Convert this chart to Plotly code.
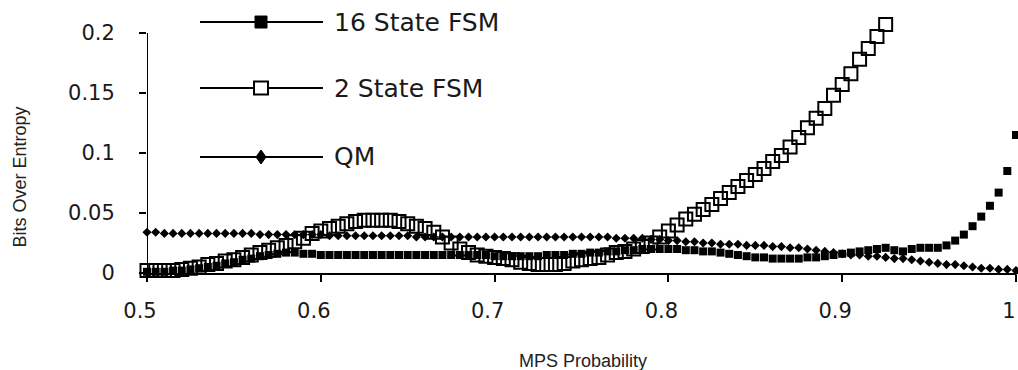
import plotly.graph_objects as go

# ---------------- data ----------------
mps = [0.500, 0.505, 0.510, 0.515, 0.520, 0.525, 0.530, 0.535, 0.540, 0.545,
       0.550, 0.555, 0.560, 0.565, 0.570, 0.575, 0.580, 0.585, 0.590, 0.595,
       0.600, 0.605, 0.610, 0.615, 0.620, 0.625, 0.630, 0.635, 0.640, 0.645,
       0.650, 0.655, 0.660, 0.665, 0.670, 0.675, 0.680, 0.685, 0.690, 0.695,
       0.700, 0.705, 0.710, 0.715, 0.720, 0.725, 0.730, 0.735, 0.740, 0.745,
       0.750, 0.755, 0.760, 0.765, 0.770, 0.775, 0.780, 0.785, 0.790, 0.795,
       0.800, 0.805, 0.810, 0.815, 0.820, 0.825, 0.830, 0.835, 0.840, 0.845,
       0.850, 0.855, 0.860, 0.865, 0.870, 0.875, 0.880, 0.885, 0.890, 0.895,
       0.900, 0.905, 0.910, 0.915, 0.920, 0.925, 0.930, 0.935, 0.940, 0.945,
       0.950, 0.955, 0.960, 0.965, 0.970, 0.975, 0.980, 0.985, 0.990, 0.995,
       1.000]

fsm16 = [0.001, 0.001, 0.001, 0.002, 0.002, 0.003, 0.004, 0.005, 0.006, 0.008,
         0.009, 0.011, 0.012, 0.014, 0.015, 0.016, 0.017, 0.017, 0.016, 0.016,
         0.015, 0.015, 0.015, 0.015, 0.015, 0.015, 0.015, 0.015, 0.015, 0.015,
         0.015, 0.015, 0.015, 0.015, 0.015, 0.015, 0.015, 0.015, 0.015, 0.015,
         0.014, 0.014, 0.014, 0.014, 0.014, 0.014, 0.015, 0.015, 0.015, 0.016,
         0.016, 0.017, 0.017, 0.018, 0.018, 0.019, 0.019, 0.020, 0.020, 0.020,
         0.020, 0.020, 0.019, 0.019, 0.018, 0.018, 0.017, 0.016, 0.015, 0.014,
         0.013, 0.013, 0.012, 0.012, 0.012, 0.012, 0.013, 0.013, 0.014, 0.015,
         0.016, 0.017, 0.018, 0.019, 0.020, 0.021, 0.019, 0.018, 0.020, 0.021,
         0.021, 0.021, 0.023, 0.027, 0.032, 0.039, 0.047, 0.056, 0.067, 0.085,
         0.115]

fsm2 = [0.002, 0.002, 0.002, 0.002, 0.003, 0.004, 0.005, 0.007, 0.008, 0.010,
        0.011, 0.013, 0.015, 0.017, 0.019, 0.021, 0.023, 0.026, 0.029, 0.033,
        0.035, 0.037, 0.039, 0.041, 0.043, 0.044, 0.044, 0.044, 0.044, 0.043,
        0.041, 0.039, 0.037, 0.034, 0.030, 0.025, 0.020, 0.017, 0.015, 0.014,
        0.013, 0.012, 0.011, 0.009, 0.008, 0.007, 0.007, 0.007, 0.008, 0.010,
        0.011, 0.012, 0.013, 0.015, 0.017, 0.018, 0.020, 0.022, 0.025, 0.030,
        0.035, 0.040, 0.045, 0.049, 0.053, 0.057, 0.062, 0.067, 0.072, 0.077,
        0.082, 0.087, 0.093, 0.098, 0.105, 0.113, 0.121, 0.129, 0.137, 0.148,
        0.157, 0.166, 0.178, 0.187, 0.197, 0.207]

qm = [0.034, 0.034, 0.033, 0.033, 0.033, 0.033, 0.033, 0.033, 0.033, 0.033,
      0.033, 0.033, 0.033, 0.032, 0.032, 0.032, 0.032, 0.032, 0.032, 0.032,
      0.032, 0.031, 0.031, 0.031, 0.031, 0.031, 0.031, 0.031, 0.031, 0.031,
      0.031, 0.030, 0.030, 0.030, 0.030, 0.030, 0.030, 0.030, 0.030, 0.030,
      0.030, 0.030, 0.030, 0.030, 0.030, 0.030, 0.030, 0.030, 0.030, 0.030,
      0.030, 0.030, 0.030, 0.030, 0.029, 0.029, 0.029, 0.029, 0.028, 0.028,
      0.027, 0.027, 0.026, 0.026, 0.025, 0.025, 0.024, 0.024, 0.024, 0.023,
      0.023, 0.023, 0.022, 0.022, 0.021, 0.021, 0.020, 0.019, 0.018, 0.017,
      0.016, 0.015, 0.015, 0.014, 0.014, 0.013, 0.012, 0.012, 0.011, 0.010,
      0.009, 0.008, 0.007, 0.007, 0.006, 0.005, 0.004, 0.004, 0.003, 0.003,
      0.002]

series_names = ["16 State FSM", "2 State FSM", "QM"]
x_tickvals = [0.5, 0.6, 0.7, 0.8, 0.9, 1.0]
x_ticktext = ["0.5", "0.6", "0.7", "0.8", "0.9", "1"]
y_tickvals = [0, 0.05, 0.1, 0.15, 0.2]
y_ticktext = ["0", "0.05", "0.1", "0.15", "0.2"]
x_title = "MPS Probability"
y_title = "Bits Over Entropy"

# ---------------- figure ----------------
TICK_FONT = dict(family="DejaVu Sans", size=21, color="#1a1a1a")
LEG_FONT = dict(family="DejaVu Sans", size=25, color="#1a1a1a")
TITLE_FONT = dict(family="Liberation Sans, Arial", size=18, color="#222")

fig = go.Figure()
fig.add_trace(go.Scatter(
    x=mps[:len(fsm2)], y=fsm2, mode="markers", name=series_names[1],
    marker=dict(symbol="square-open", size=13, color="black", line=dict(width=2, color="black")),
    cliponaxis=False, showlegend=False))
fig.add_trace(go.Scatter(
    x=mps, y=fsm16, mode="markers", name=series_names[0],
    marker=dict(symbol="square", size=8, color="black"),
    cliponaxis=False, showlegend=False))
fig.add_trace(go.Scatter(
    x=mps, y=qm, mode="markers", name=series_names[2],
    marker=dict(symbol="diamond", size=7, color="black"),
    cliponaxis=False, showlegend=False))

YMAX = 0.2108
fig.update_layout(
    width=1018, height=370,
    margin=dict(l=147, r=2, t=20, b=97),
    paper_bgcolor="white", plot_bgcolor="white",
    showlegend=False,
    xaxis=dict(range=[0.5, 1.0], tickvals=x_tickvals, ticktext=x_ticktext,
               ticks="outside", ticklen=7, tickwidth=2, tickcolor="black",
               showline=True, linewidth=2, linecolor="black",
               showgrid=False, zeroline=False, tickfont=TICK_FONT,
               ticklabelstandoff=11, ticklabelshift=-7, automargin=False),
    yaxis=dict(range=[0, YMAX], tickvals=y_tickvals, ticktext=y_ticktext,
               ticks="outside", ticklen=7, tickwidth=2, tickcolor="black",
               showline=False, showgrid=False, zeroline=False, tickfont=TICK_FONT,
               ticklabelstandoff=20, automargin=False),
    xaxis2=dict(overlaying="x", anchor="y", side="bottom", range=[0.5, 1.0],
                tickvals=x_tickvals, showticklabels=False, ticks="inside",
                ticklen=7, tickwidth=2, tickcolor="black", showgrid=False,
                zeroline=False, showline=False),
    yaxis2=dict(overlaying="y", anchor="x", side="left", range=[0, YMAX],
                tickvals=y_tickvals, showticklabels=False, ticks="inside",
                ticklen=7, tickwidth=2, tickcolor="black", showgrid=False,
                zeroline=False, showline=False),
)

# y axis line only up to 0.2
fig.add_shape(type="line", xref="x", yref="y", x0=0.5, x1=0.5, y0=0, y1=0.2,
              line=dict(color="black", width=2))

# axis titles
fig.add_annotation(text=x_title, xref="paper", yref="paper", x=0.502, y=-0.348,
                   showarrow=False, xanchor="center", yanchor="middle", font=TITLE_FONT)
fig.add_annotation(text=y_title, xref="paper", yref="paper", x=-0.146, y=0.378,
                   showarrow=False, xanchor="center", yanchor="middle", textangle=-90,
                   font=TITLE_FONT)

# manual legend
rows_y = [0.992, 0.731, 0.4585]
lx0, lx1, lmx, ltx = 0.061, 0.2025, 0.1312, 0.213
for i, name in enumerate(series_names):
    yy = rows_y[i]
    fig.add_shape(type="line", xref="paper", yref="paper", x0=lx0, x1=lx1, y0=yy, y1=yy,
                  line=dict(color="black", width=2))
    if i == 0:
        fig.add_shape(type="rect", xref="paper", yref="paper", xsizemode="pixel", ysizemode="pixel",
                      xanchor=lmx, yanchor=yy, x0=-6, x1=6, y0=-6, y1=6,
                      fillcolor="black", line=dict(color="black", width=1))
    elif i == 1:
        fig.add_shape(type="rect", xref="paper", yref="paper", xsizemode="pixel", ysizemode="pixel",
                      xanchor=lmx, yanchor=yy, x0=-7, x1=7, y0=-6.5, y1=6.5,
                      fillcolor="white", line=dict(color="black", width=2))
    else:
        fig.add_shape(type="path", xref="paper", yref="paper", xsizemode="pixel", ysizemode="pixel",
                      xanchor=lmx, yanchor=yy, path="M 0,-7 L 5,0 L 0,7 L -5,0 Z",
                      fillcolor="black", line=dict(color="black", width=1))
    fig.add_annotation(text=name, xref="paper", yref="paper", x=ltx, y=yy,
                       showarrow=False, xanchor="left", yanchor="middle", font=LEG_FONT)

fig.write_html("out.html", config={"displayModeBar": False},
               post_script="document.body.style.margin='0px';document.body.style.overflow='hidden';")
